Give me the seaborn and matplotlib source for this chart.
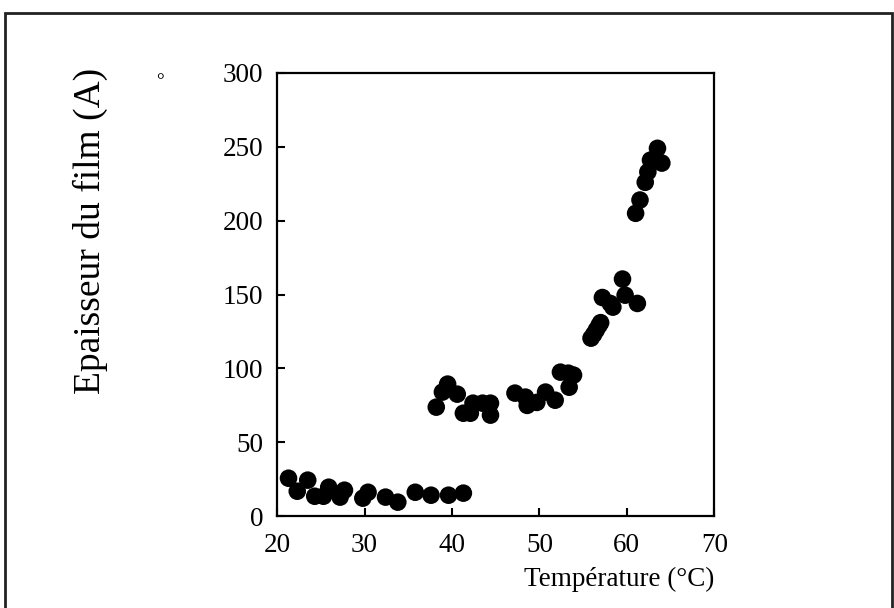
import matplotlib
matplotlib.use("Agg")
import matplotlib.pyplot as plt
import seaborn as sns
import pandas as pd
from matplotlib.patches import Rectangle

temperature = [21.3, 22.3, 23.5, 24.3, 25.3, 25.9, 27.2, 27.7, 29.8, 30.4,
               32.4, 33.8, 35.8, 37.6, 39.6, 41.3,
               38.2, 38.9, 39.5, 40.6, 41.3, 42.1, 42.4, 43.5, 44.4, 44.4,
               47.2, 48.4, 48.6, 49.7, 50.7, 51.8, 52.4, 53.3, 53.9, 53.4,
               55.9, 56.2, 56.5, 56.8, 57.0,
               57.2, 58.1, 58.4, 59.5, 59.8, 61.2,
               61.0, 61.5, 62.1, 62.4, 62.7, 63.5, 64.0]
thickness = [25.7, 16.9, 24.4, 13.5, 13.5, 19.6, 12.9, 17.6, 12.2, 16.2,
             12.9, 9.5, 16.2, 14.2, 14.2, 15.6,
             73.8, 84.0, 89.4, 82.6, 69.7, 69.7, 76.5, 76.5, 76.5, 68.4,
             83.3, 80.6, 75.0, 77.0, 84.0, 78.5, 97.5, 96.8, 95.5, 87.3,
             120.5, 123.0, 126.0, 129.0, 131.0,
             148.0, 144.0, 141.5, 160.5, 149.6, 144.0,
             205.0, 214.0, 226.0, 233.0, 241.0, 249.0, 239.0]

x_ticks = [20, 30, 40, 50, 60, 70]
y_ticks = [0, 50, 100, 150, 200, 250, 300]

df = pd.DataFrame({"T": temperature, "e": thickness})

sns.set_theme(style="white")
plt.rcParams["font.family"] = ["Liberation Serif", "DejaVu Serif"]

fig = plt.figure(figsize=(8.94, 6.08), dpi=100)
ax = fig.add_axes([0.31, 0.151, 0.489, 0.729])

sns.scatterplot(data=df, x="T", y="e", ax=ax, color="black", s=160,
                edgecolor="none", linewidth=0, legend=False)

ax.set_xlim(20, 70)
ax.set_ylim(0, 300)
ax.set_xticks(x_ticks)
ax.set_yticks(y_ticks)
ax.tick_params(direction="in", length=6, width=1.5, labelsize=19.5,
               colors="black", top=False, right=False,
               bottom=True, left=True)
ax.tick_params(axis="x", pad=12)
ax.tick_params(axis="y", pad=10)
for s in ax.spines.values():
    s.set_visible(True)
    s.set_color("black")
    s.set_linewidth(1.6)
ax.set_xlabel("")
ax.set_ylabel("")

fig.text(0.799, 0.027, "Température (°C)", ha="right", va="bottom",
         fontsize=19.5, color="black")
fig.text(0.101, 0.62, "Epaisseur du film (A)", rotation=90, ha="center",
         va="center", fontsize=27, color="black")
fig.text(0.179, 0.866, "°", ha="center", va="center", fontsize=14,
         color="black")

fig.patches.append(Rectangle((0.006, -0.02), 0.992, 0.999, transform=fig.transFigure,
                             fill=False, edgecolor="#222222", linewidth=2))

fig.savefig("out.png", dpi=100)
